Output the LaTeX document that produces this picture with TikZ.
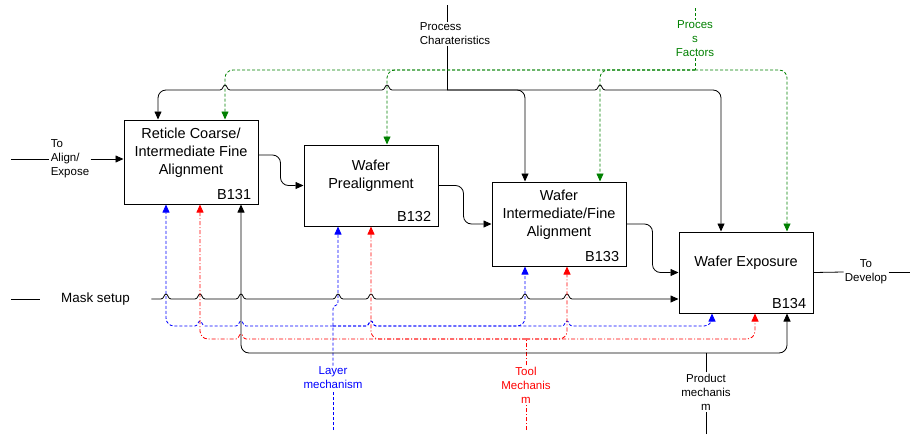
\documentclass[tikz,border=0pt]{standalone}
\usepackage{fontspec}
\setmainfont{Liberation Sans}
\usetikzlibrary{arrows.meta}

\begin{document}
\begin{tikzpicture}[x=1pt,y=-1pt,line width=0.8pt,
	blk/.style={draw,line width=1pt,minimum width=134pt,inner sep=0pt},
	ttl/.style={align=center,font=\fontsize{14.5}{18}\selectfont},
	idn/.style={anchor=south east,inner sep=0pt,font=\fontsize{14.5}{18}\selectfont},
	lbl/.style={align=center,inner sep=1pt,font=\fontsize{11.5}{14}\selectfont},
	arr/.style={-{Triangle[length=8pt,width=7pt]}},
	bline/.style={arr,rounded corners=8pt},
	blu/.style={bline,blue,dash pattern=on 3pt off 2pt},
	rd/.style={bline,red,dash pattern=on 4pt off 2pt on 1pt off 2pt},
	grn/.style={bline,green!50!black,dash pattern=on 3pt off 2pt},
	hopr/.style={insert path={.. controls +(3,0) and +(-2,0) .. ++(5,-5) .. controls +(2,0) and +(-3,0) .. ++(5,5)}},
	hopl/.style={insert path={.. controls +(-3,0) and +(2,0) .. ++(-5,-5) .. controls +(-2,0) and +(3,0) .. ++(-5,5)}}]
	\useasboundingbox (0,0) rectangle (910,434);
	\node[blk,minimum height=84pt] (b131) at (191,162) {};
	\node[blk,minimum height=81pt] (b132) at (371,185.5) {};
	\node[blk,minimum height=84pt] (b133) at (559,224) {};
	\node[blk,minimum height=81pt] (b134) at (746,272.5) {};
	\node[ttl] (t131) at (191,153) {Reticle Coarse/\\Intermediate Fine\\Alignment};
	\node[ttl] (t132) at (371,176) {Wafer\\Prealignment};
	\node[ttl] (t133) at (559,215) {Wafer\\Intermediate/Fine\\Alignment};
	\node[ttl] (t134) at (746,263) {Wafer Exposure};
	\node[idn] (n131) at ([shift={(-7,-4.5)}]b131.south east) {B131};
	\node[idn] (n132) at ([shift={(-7,-4.5)}]b132.south east) {B132};
	\node[idn] (n133) at ([shift={(-7,-4.5)}]b133.south east) {B133};
	\node[idn] (n134) at ([shift={(-7,-4.5)}]b134.south east) {B134};

	\node[lbl,align=left] (pc) at (455,34) {Process\\Charateristics};
	\node[lbl,text=green!50!black] (pf) at (695,39) {Proces\\s\\Factors};
	\node[lbl,align=left] (inl) at (70,159) {To\\Align/\\Expose};
	\node[lbl,minimum width=111pt,font=\fontsize{13.4}{16}\selectfont] (msk) at (95.5,299) {Mask setup};
	\node[lbl] (outl) at (866,272) {To\\Develop};
	\node[lbl,text=blue] (lay) at (333,378) {Layer\\mechanism};
	\node[lbl,text=red] (tool) at (526,385) {Tool\\Mechanis\\m};
	\node[lbl] (prod) at (706,392) {Product\\mechanis\\m};

	\coordinate (pctop) at (447,5);
	\coordinate (pcj) at (447,90);
	\coordinate (pftop) at (695,8);
	\coordinate (pfj) at (695,70);
	\coordinate (inp) at (11,159);
	\coordinate (mskl) at (11,299);
	\coordinate (outp) at (910,272);
	\coordinate (layb) at (333,430);
	\coordinate (laj) at (333,326);
	\coordinate (toolb) at (526,430);
	\coordinate (toj) at (526,339);
	\coordinate (prodb) at (706,434);
	\coordinate (prj) at (706,353);

	\draw (pctop) -- (pctop |- pc.north);
	\draw (pctop |- pc.south) -- (pcj);
	\draw[grn,-] (pftop) -- (pf.north);
	\draw[grn,-] (pf.south) -- (pfj);
	\draw[grn] (pfj) -- (225,70) -- ([xshift=34pt]b131.north);
	\draw[grn] (pfj) -- (387,70) -- ([xshift=16pt]b132.north);
	\draw[grn] (pfj) -- (600,70) -- ([xshift=41pt]b133.north);
	\draw[grn] (pfj) -- (787,70) -- ([xshift=41pt]b134.north);
	\draw[arr] (pcj) -- (392,90) [hopl] -- (230,90) [hopl] -- (205,90) [rounded corners=8pt] -- (158,90) -- ([xshift=-33pt]b131.north);
	\draw[bline] (pcj) -- (525,90) -- ([xshift=-34pt]b133.north);
	\draw[arr] (pcj) -- (595,90) [hopr] -- (690,90) [rounded corners=8pt] -- (721,90) -- ([xshift=-25pt]b134.north);

	\draw (inp) -- (inl.west);
	\draw[arr] (inl.east) -- (b131.west |- inl.east);
	\draw[bline] ([yshift=7pt]b131.east) -- ++(22,0) |- (b132.west);
	\draw[bline] (b132.east) -- ++(25,0) |- (b133.west);
	\draw[bline] (b133.east) -- ++(26,0) |- (b134.west);
	\draw (b134.east) -- (outl.west);
	\draw (outl.east) -- (outp);

	\draw (mskl) -- (msk.west);
	\draw[arr] (msk.east) -- (161,299) [hopr] -- (195,299) [hopr] -- (236,299) [hopr] -- (333,299) [hopr] -- (366,299) [hopr] -- (520,299) [hopr] -- (562,299) [hopr] -- (b134.west |- msk.east);

	\draw[blu,-] (layb) -- (lay.south);
	\draw[blu,sharp corners] (lay.north) -- (333,309) .. controls (333,304) and (338,307) .. (338,302) -- ([xshift=-33pt]b132.south);
	\draw[blu,sharp corners] (laj) -- (246,326) [hopl] -- (205,326) [hopl] -- (190,326) [rounded corners=8pt] -- (166,326) -- ([xshift=-25pt]b131.south);
	\draw[blu,sharp corners] (laj) -- (366,326) [hopr] -- (500,326) [rounded corners=8pt] -- (525,326) -- ([xshift=-34pt]b133.south);
	\draw[blu,sharp corners] (laj) -- (366,326) [hopr] -- (562,326) [hopr] -- (690,326) [rounded corners=8pt] -- (712,326) -- ([xshift=-34pt]b134.south);

	\draw[rd,-] (toolb) -- (tool.south);
	\draw[rd,-] (tool.north) -- (toj);
	\draw[rd] (toj) -- (371,339) -- (b132.south);
	\draw[rd,sharp corners] (toj) -- (246,339) [hopl] -- (225,339) [rounded corners=8pt] -- (200,339) -- ([xshift=9pt]b131.south);
	\draw[rd] (toj) -- (567,339) -- ([xshift=8pt]b133.south);
	\draw[rd] (toj) -- (755,339) -- ([xshift=9pt]b134.south);

	\draw (prodb) -- (prod.south);
	\draw (prod.north) -- (prj);
	\draw[bline] (prj) -- (241,353) -- ([xshift=50pt]b131.south);
	\draw[bline] (prj) -- (787,353) -- ([xshift=41pt]b134.south);
\end{tikzpicture}
\end{document}
